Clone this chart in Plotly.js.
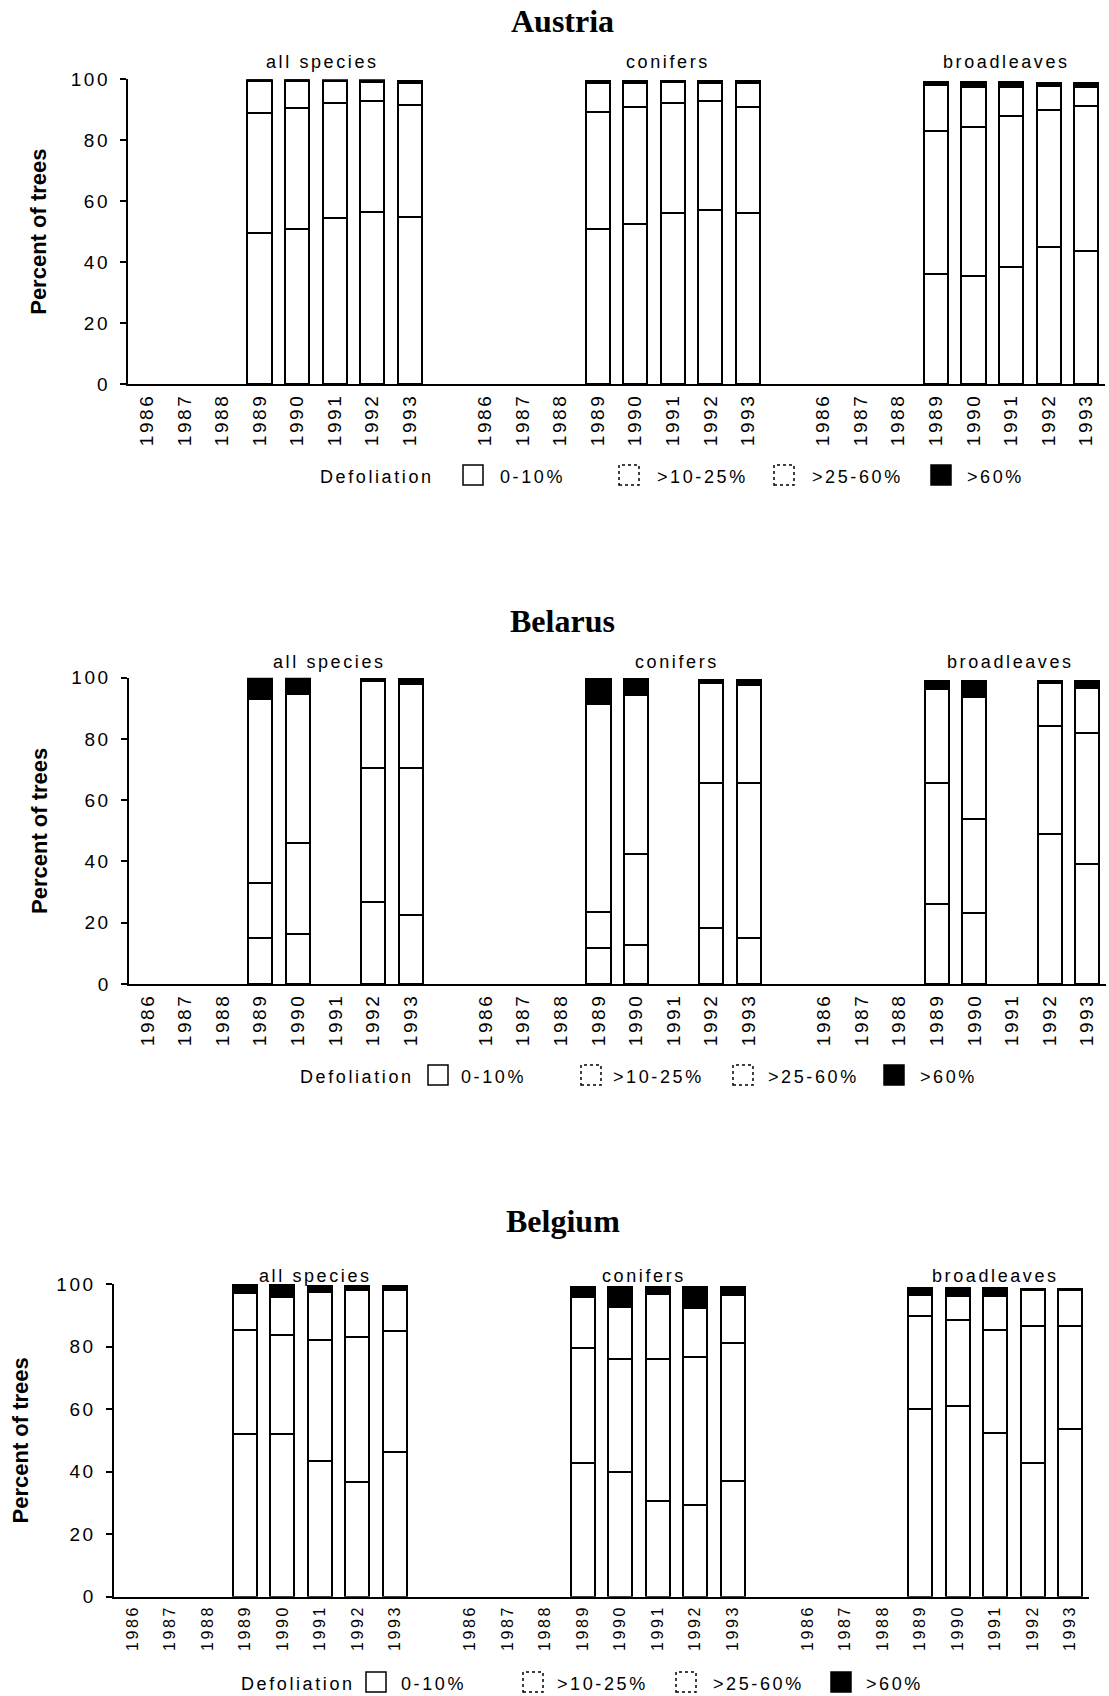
<!DOCTYPE html>
<html><head><meta charset="utf-8">
<script src="https://cdn.plot.ly/plotly-3.0.1.min.js"></script>
<style>
html,body{margin:0;padding:0;background:#fff;}
#chart{width:1109px;height:1696px;}
svg text{letter-spacing:2.6px;}
svg text[class$="title"], svg text[style*="Serif"]{letter-spacing:0 !important;}
</style></head>
<body><div id="chart"></div>
<script>
// ---- data ----
const years = ['1986','1987','1988','1989','1990','1991','1992','1993'];
const groups = ['all species','conifers','broadleaves'];
const classes = ['0-10%','>10-25%','>25-60%','>60%'];
const countries = ['Austria','Belarus','Belgium'];

// each array: all species 1986-1993, conifers 1986-1993, broadleaves 1986-1993 (percent of trees)
const austria_0_10  = [null,null,null,49.5,50.8,54.4,56.3,54.7, null,null,null,51.0,52.5,56.2,57.1,56.0, null,null,null,36.0,35.4,38.5,45.1,43.7];
const austria_10_25 = [null,null,null,39.3,39.7,37.7,36.7,36.8, null,null,null,38.4,38.5,36.1,35.9,35.0, null,null,null,47.1,48.8,49.5,44.8,47.5];
const austria_25_60 = [null,null,null,10.7,9.0,7.4,6.1,7.4,     null,null,null,9.3,7.7,6.7,5.7,7.7,       null,null,null,15.0,13.2,9.4,7.9,6.4];
const austria_60    = [null,null,null,0.5,0.5,0.4,0.6,0.6,      null,null,null,0.8,0.8,0.6,0.8,0.6,       null,null,null,1.1,1.8,1.8,1.1,1.3];

const belarus_0_10  = [null,null,null,15.1,16.2,null,26.7,22.4, null,null,null,11.6,12.7,null,18.4,15.1, null,null,null,26.1,23.3,null,48.9,39.2];
const belarus_10_25 = [null,null,null,18.0,29.7,null,43.9,48.0, null,null,null,12.0,29.7,null,47.3,50.4, null,null,null,39.6,30.6,null,35.3,42.8];
const belarus_25_60 = [null,null,null,59.9,48.7,null,28.3,27.4, null,null,null,67.7,52.0,null,32.7,32.1, null,null,null,30.5,39.9,null,14.0,14.5];
const belarus_60    = [null,null,null,7.0,5.4,null,0.8,1.9,     null,null,null,8.2,5.1,null,0.8,1.6,     null,null,null,2.8,5.2,null,0.7,2.4];

const belgium_0_10  = [null,null,null,51.9,52.0,43.4,36.6,46.4, null,null,null,42.7,39.8,30.6,29.3,37.0, null,null,null,59.9,61.0,52.5,42.7,53.6];
const belgium_10_25 = [null,null,null,33.4,31.7,38.6,46.4,38.6, null,null,null,36.7,36.1,45.4,47.3,44.0, null,null,null,30.0,27.5,32.8,44.0,33.1];
const belgium_25_60 = [null,null,null,11.7,12.0,15.5,15.1,13.1, null,null,null,16.5,16.8,20.7,15.6,15.5, null,null,null,6.6,7.8,11.0,11.4,11.5];
const belgium_60    = [null,null,null,2.7,4.0,1.9,1.3,1.3,      null,null,null,3.2,6.3,2.3,6.8,2.5,      null,null,null,2.1,2.3,2.3,0.3,0.3];

const yTicks = [0,20,40,60,80,100];

// ---- layout helpers ----
const W = 1109, H = 1696;
const panels = [
  {data:[austria_0_10,austria_10_25,austria_25_60,austria_60], L:128, R:1105, T:79.3, B:384,
   titleY:21, subY:17, subX:[4.675,13.86,22.88], xfont:19, legY:477,
   legX:[318, 463,498, 619,655, 774,810, 931,965], ytStandoff:18},
  {data:[belarus_0_10,belarus_10_25,belarus_25_60,belarus_60], L:128.6, R:1106, T:677.7, B:984,
   titleY:621, subY:16, subX:[4.85,14.09,22.96], xfont:19, legY:1077,
   legX:[298, 428,459, 581,611, 733,766, 884,918], ytStandoff:18},
  {data:[belgium_0_10,belgium_10_25,belgium_25_60,belgium_60], L:113.6, R:1089, T:1284, B:1596.7,
   titleY:1221, subY:8, subX:[4.89,13.64,23.0], xfont:16, legY:1684,
   legX:[239, 366,399, 523,555, 676,711, 831,864], ytStandoff:22}
];

// x positions: each species group has 8 year slots followed by one empty slot
const xs = [], xlab = [];
groups.forEach((g, gi) => years.forEach((yr, i) => { xs.push(gi * (years.length + 1) + i); xlab.push(yr); }));
const nSlots = groups.length * (years.length + 1) - 1;
const bounds = []; for (let k = 0; k <= nSlots; k++) bounds.push(k - 0.5);
const xRange = [-0.5, nSlots - 0.5];

const xk = n => n === 1 ? 'xaxis' : 'xaxis' + n;
const yk = n => n === 1 ? 'yaxis' : 'yaxis' + n;
const xid = n => n === 1 ? 'x' : 'x' + n;
const yid = n => n === 1 ? 'y' : 'y' + n;

const SANS = '"Liberation Sans", Arial, Helvetica, sans-serif';
const SERIF = '"Liberation Serif", "Times New Roman", serif';

const traces = [];
const layout = {
  width: W, height: H, autosize: false,
  margin: {l:0, r:0, t:0, b:0, pad:0},
  paper_bgcolor: '#ffffff', plot_bgcolor: 'rgba(0,0,0,0)',
  barmode: 'stack', showlegend: false,
  font: {family: SANS, size: 18, color: '#000'},
  annotations: [], shapes: []
};

panels.forEach((P, p) => {
  const xm = 3*p+1, xo = 3*p+2, xi = 3*p+3, ym = 2*p+1, yi = 2*p+2;
  const xdom = [P.L / W, P.R / W];
  const ydom = [1 - P.B / H, 1 - P.T / H];

  layout[xk(xm)] = {domain: xdom, anchor: yid(ym), range: xRange, fixedrange: true,
    tickmode: 'array', tickvals: xs, ticktext: xlab, ticks: '', tickangle: -90,
    ticklabelstandoff: 0,
    tickfont: {family: SANS, size: P.xfont, color: '#000'},
    showline: true, linecolor: '#000', linewidth: 2, showgrid: false, zeroline: false, automargin: false};
  layout[xk(xo)] = {overlaying: xid(xm), anchor: yid(ym), range: xRange, fixedrange: true,
    tickmode: 'array', tickvals: bounds, ticks: 'outside', ticklen: 5, tickwidth: 2, tickcolor: '#000',
    showticklabels: false, showline: false, showgrid: false, zeroline: false, automargin: false};
  const inner = {overlaying: xid(xm), anchor: yid(ym), range: xRange, fixedrange: true,
    tickmode: 'array', tickvals: bounds, ticks: 'inside', ticklen: 4, tickwidth: 2, tickcolor: '#000',
    showticklabels: false, showline: false, showgrid: false, zeroline: false, automargin: false};
  if (p === 2) inner.minor = {tickmode: 'array', tickvals: xs, ticks: 'inside', ticklen: 3, tickwidth: 1.5, tickcolor: '#000'};
  layout[xk(xi)] = inner;

  layout[yk(ym)] = {domain: ydom, anchor: xid(xm), range: [0, 100], fixedrange: true,
    tickmode: 'array', tickvals: yTicks, ticks: 'outside', ticklen: 6, tickwidth: 2, tickcolor: '#000',
    ticklabelstandoff: 6,
    tickfont: {family: SANS, size: 19, color: '#000'},
    showline: true, linecolor: '#000', linewidth: 2, showgrid: false, zeroline: false, automargin: false,
    title: {text: 'Percent of trees', font: {family: SANS, size: 22, color: '#000', weight: 'bold'}, standoff: P.ytStandoff}};
  layout[yk(yi)] = {overlaying: yid(ym), anchor: xid(xm), range: [0, 100], fixedrange: true,
    tickmode: 'array', tickvals: yTicks, ticks: 'inside', ticklen: 6, tickwidth: 2, tickcolor: '#000',
    showticklabels: false, showline: false, showgrid: false, zeroline: false, automargin: false};

  // stacked bars
  P.data.forEach((vals, c) => {
    traces.push({type: 'bar', name: classes[c], x: xs, y: vals, width: 0.64,
      xaxis: xid(xm), yaxis: yid(ym), cliponaxis: false, hoverinfo: 'skip',
      marker: {color: c === 3 ? '#000' : '#fff', line: {color: '#000', width: 2}}});
  });

  // country title
  layout.annotations.push({xref: 'paper', yref: 'paper', x: 562.6 / W, y: 1 - P.titleY / H,
    xanchor: 'center', yanchor: 'middle', showarrow: false, text: countries[p],
    font: {family: SERIF, size: 32, color: '#000', weight: 'bold'}});

  // group labels
  groups.forEach((g, gi) => layout.annotations.push({xref: xid(xm), yref: yid(ym), x: P.subX[gi], y: 100,
    yshift: P.subY, xanchor: 'center', yanchor: 'middle', showarrow: false, text: g,
    font: {family: SANS, size: 18, color: '#000'}}));

  // legend row
  const ly = P.legY;
  layout.annotations.push({xref: 'paper', yref: 'paper', x: P.legX[0] / W, y: 1 - ly / H,
    xanchor: 'left', yanchor: 'middle', showarrow: false, text: 'Defoliation',
    font: {family: SANS, size: 18, color: '#000'}});
  classes.forEach((cl, c) => {
    const bx = P.legX[1 + 2*c], tx = P.legX[2 + 2*c];
    layout.shapes.push({type: 'rect', xref: 'paper', yref: 'paper',
      x0: bx / W, x1: (bx + 20) / W, y0: 1 - (ly - 2 + 10) / H, y1: 1 - (ly - 2 - 10) / H,
      fillcolor: c === 3 ? '#000' : '#fff',
      line: {color: '#000', width: 1.5, dash: (c === 1 || c === 2) ? 'dot' : 'solid'}});
    layout.annotations.push({xref: 'paper', yref: 'paper', x: tx / W, y: 1 - ly / H,
      xanchor: 'left', yanchor: 'middle', showarrow: false, text: cl,
      font: {family: SANS, size: 18, color: '#000'}});
  });
});

Plotly.newPlot('chart', traces, layout, {staticPlot: true, displayModeBar: false});
</script>
</body></html>
